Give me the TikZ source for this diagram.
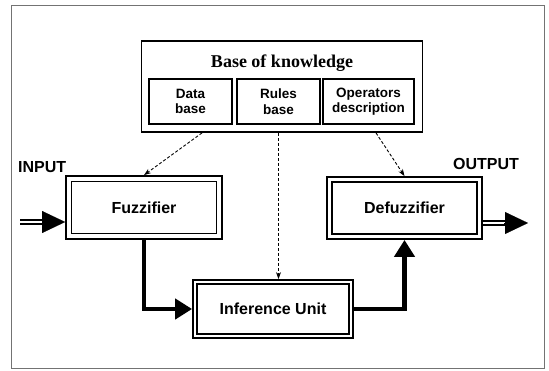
\documentclass[tikz,border=0pt]{standalone}
\usepackage{fontspec}
\setmainfont{Liberation Sans}
\newfontfamily\titlefont{Liberation Serif}
\usetikzlibrary{arrows.meta,calc}

\tikzset{
  unitbox/.style={draw, line width=1.8pt, minimum width=#1, inner sep=0pt,
    font=\bfseries\fontsize{16}{19}\selectfont},
  kbox/.style={draw, line width=1.3pt, minimum width=#1, minimum height=45pt,
    inner sep=0pt, align=center, font=\bfseries\fontsize{13.5}{15.5}\selectfont},
  iolabel/.style={font=\bfseries\fontsize{16}{19}\selectfont, inner sep=0pt},
  flow/.style={line width=4.5pt, -{Triangle[length=17pt,width=20pt]}},
  link/.style={line width=0.9pt, dash pattern=on 3pt off 2pt,
    -{Stealth[length=7pt,width=5pt]}},
  dblshaft/.style={line width=1.8pt, double, double distance=1.6pt},
  bigtip/.style={-{Triangle[length=23pt,width=22pt]}, line width=0.1pt}
}

\begin{document}
\begin{tikzpicture}[x=1pt, y=-1pt]
  \useasboundingbox[fill=white] (0,0) rectangle (549,370);
  % outer frame
  \draw[black!55, line width=0.8pt] (11,5) rectangle (544,368);

  % knowledge base with its three parts
  \node[draw, line width=1.8pt, minimum width=281pt, minimum height=91pt] (base) at (282,86.5) {};
  \node[font=\titlefont\bfseries\fontsize{18}{21}\selectfont, inner sep=0pt] (title) at (282,63) {Base of knowledge};
  \node[kbox=83pt] (db) at (190.5,101.5) {Data\\base};
  \node[kbox=83pt] (rb) at (278.5,101.5) {Rules\\base};
  \node[kbox=91pt] (od) at (368.5,101.5) {Operators\\description};

  % processing units (double-framed)
  \node[unitbox=156pt, minimum height=63pt] (fuzz) at (144,207.5) {Fuzzifier};
  \node[unitbox=155pt, minimum height=62pt] (defuzz) at (404.5,208) {Defuzzifier};
  \node[unitbox=160pt, minimum height=58pt] (inf) at (273,309) {Inference Unit};
  \foreach \n/\g in {fuzz/6.5pt, defuzz/6pt, inf/5pt}{
    \draw[line width=1.3pt] ([shift={(\g,-\g)}]\n.north west) rectangle ([shift={(-\g,\g)}]\n.south east);
  }

  % input and output
  \node[iolabel, anchor=west] (inlbl) at (18,167) {INPUT};
  \node[iolabel, anchor=west] (outlbl) at (453,164) {OUTPUT};
  \coordinate (inA) at (20,222);
  \coordinate (inB) at (45,222);
  \draw[dblshaft] (inA) -- (inB);
  \draw[bigtip] ($(inB)+(-2,0)$) -- (fuzz.west |- inA);
  \coordinate (outB) at (506,223);
  \coordinate (outC) at (528,223);
  \draw[dblshaft] (defuzz.east |- outB) -- (outB);
  \draw[bigtip] ($(outB)+(-2,0)$) -- (outC);

  % main data flow
  \draw[flow] (fuzz.south) |- (inf.west);
  \draw[flow] (inf.east) -| (defuzz.south);

  % knowledge links
  \draw[link] ([xshift=-80pt]base.south) -- (fuzz.north);
  \draw[link] (rb.south |- base.south) -- (rb.south |- inf.north);
  \draw[link] ([xshift=94pt]base.south) -- (defuzz.north);
\end{tikzpicture}
\end{document}
